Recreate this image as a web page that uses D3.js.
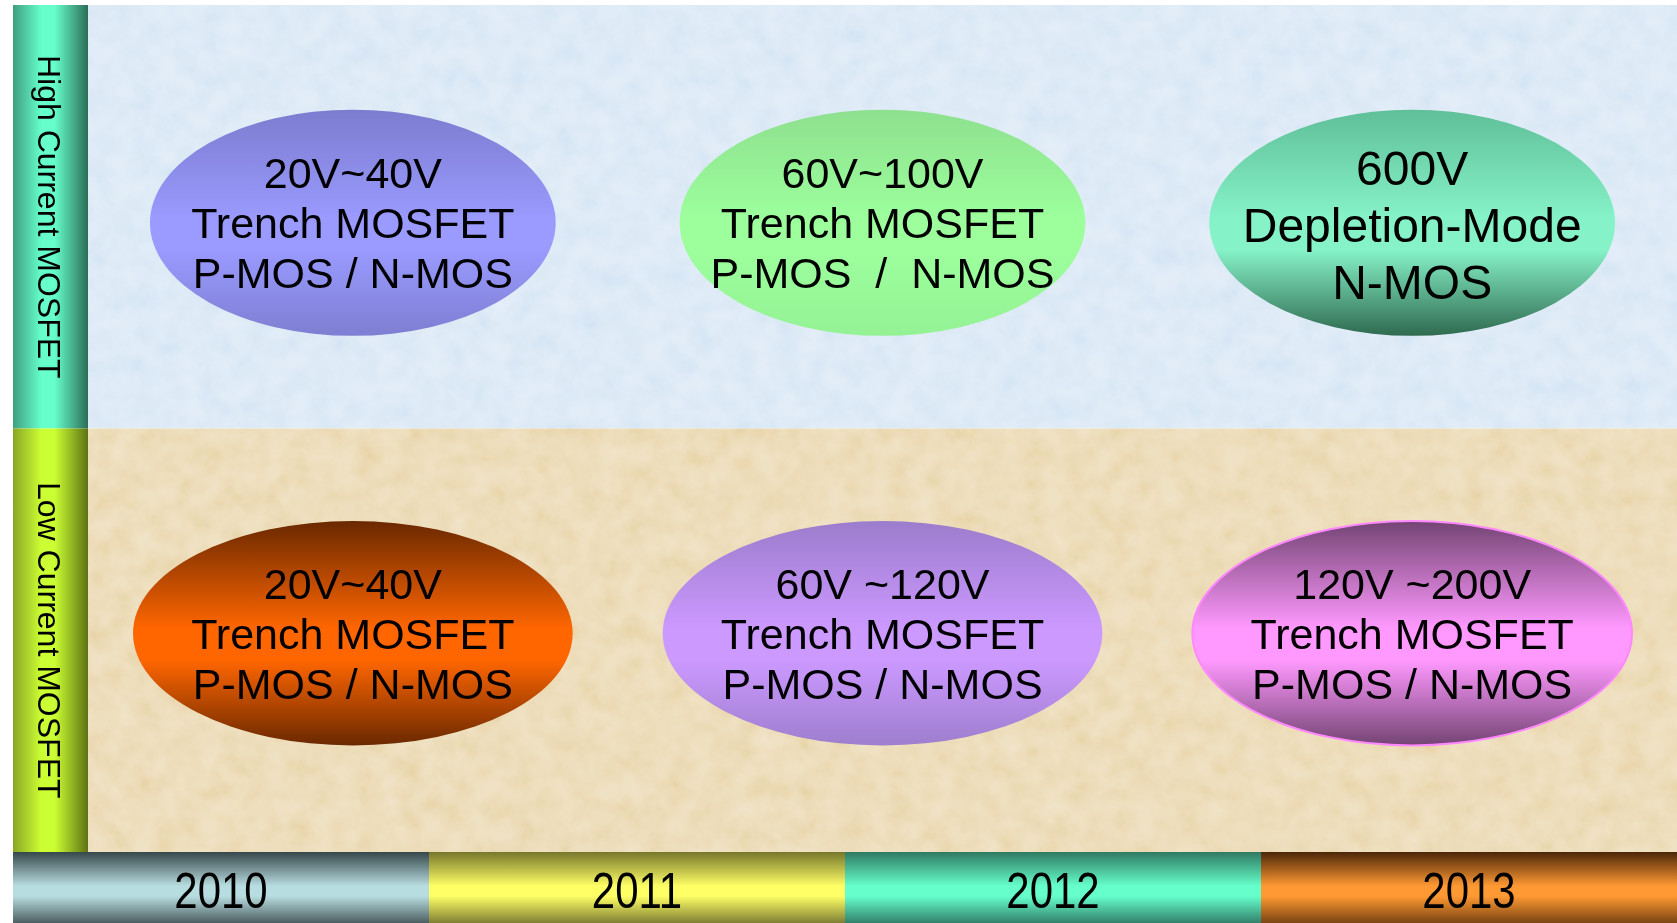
<!DOCTYPE html>
<html>
<head>
<meta charset="utf-8">
<script src="https://cdn.jsdelivr.net/npm/d3@7"></script>
<style>
  html, body { margin: 0; padding: 0; background: #fff; }
  svg { display: block; font-family: "Liberation Sans", Arial, Helvetica, sans-serif; }
</style>
</head>
<body>
<div id="chart"></div>
<script>
// datos del gráfico
let years = ['2010', '2011', '2012', '2013'];
let rows = ['High Current MOSFET', 'Low Current MOSFET'];
let slots = [0, 1, 2];

let itemRow = [0, 0, 0, 1, 1, 1];
let itemSlot = [0, 1, 2, 0, 1, 2];
let itemLines = [
    ['20V~40V', 'Trench MOSFET', 'P-MOS / N-MOS'],
    ['60V~100V', 'Trench MOSFET', 'P-MOS  /  N-MOS'],
    ['600V', 'Depletion-Mode', 'N-MOS'],
    ['20V~40V', 'Trench MOSFET', 'P-MOS / N-MOS'],
    ['60V ~120V', 'Trench MOSFET', 'P-MOS / N-MOS'],
    ['120V ~200V', 'Trench MOSFET', 'P-MOS / N-MOS']
];

// estilos
let itemColors = [
    ['#7c7ccf', '#9a9aff', '#7e7ed2'],
    ['#8ee08e', '#9cff9c', '#94f294'],
    ['#5fbf98', '#86f2c8', '#2f6a4f'],
    ['#6a2800', '#ff6600', '#6a2800'],
    ['#9c7ccc', '#cc99ff', '#9e7ece'],
    ['#734473', '#ff99ff', '#734473']
];
let yearColors = [
    ['#36474a', '#b8dde0', '#4c5e61'],
    ['#77772c', '#ffff66', '#7f7f33'],
    ['#2f7a62', '#66ffcc', '#33806a'],
    ['#4b2608', '#ff9933', '#7a4412']
];
let rowColors = [
    ['#3f9f80', '#66ffcc', '#2b6e58'],
    ['#8aa624', '#ccff33', '#5d7212']
];

let W = 1677, H = 923;
let margin = {top: 5, left: 13, labelW: 75, yearH: 71};

let svg = d3.select('#chart').append('svg')
    .attr('width', W)
    .attr('height', H);

let defs = svg.append('defs');

// textura del fondo
let noise = defs.append('filter').attr('id', 'noise')
    .attr('x', 0).attr('y', 0).attr('width', '100%').attr('height', '100%');
noise.append('feTurbulence')
    .attr('type', 'fractalNoise')
    .attr('baseFrequency', 0.045)
    .attr('numOctaves', 4)
    .attr('seed', 7);
noise.append('feColorMatrix')
    .attr('type', 'matrix')
    .attr('values', '1 0 0 0 0  1 0 0 0 0  1 0 0 0 0  0 0 0 0 1');

function vGrad(id, c) {
    let g = defs.append('linearGradient').attr('id', id)
        .attr('x1', 0).attr('y1', 0).attr('x2', 0).attr('y2', 1);
    g.append('stop').attr('offset', '0%').attr('stop-color', c[0]);
    g.append('stop').attr('offset', '48%').attr('stop-color', c[1]);
    g.append('stop').attr('offset', '62%').attr('stop-color', c[1]);
    g.append('stop').attr('offset', '100%').attr('stop-color', c[2]);
}
function hGrad(id, c) {
    let g = defs.append('linearGradient').attr('id', id)
        .attr('x1', 0).attr('y1', 0).attr('x2', 1).attr('y2', 0);
    g.append('stop').attr('offset', '0%').attr('stop-color', c[0]);
    g.append('stop').attr('offset', '38%').attr('stop-color', c[1]);
    g.append('stop').attr('offset', '55%').attr('stop-color', c[1]);
    g.append('stop').attr('offset', '100%').attr('stop-color', c[2]);
}

itemColors.forEach(function(c, i) { vGrad('item-' + i, c); });
yearColors.forEach(function(c, i) { vGrad('year-' + i, c); });
rowColors.forEach(function(c, i) { hGrad('row-' + i, c); });

// escalas
let plotLeft = margin.left + margin.labelW;
let plotBottom = H - margin.yearH;

let y = d3.scaleBand()
    .domain(rows)
    .range([margin.top, plotBottom]);

let x = d3.scaleBand()
    .domain(slots)
    .range([plotLeft, W]);

let xYear = d3.scaleBand()
    .domain(years)
    .range([margin.left, W]);

// fondos de las filas
let bgColors = ['#d8e7f5', '#eAd7ae'];
let bands = svg.append('g');
rows.forEach(function(r, i) {
    bands.append('rect')
        .attr('x', plotLeft).attr('y', y(r))
        .attr('width', W - plotLeft).attr('height', y.bandwidth())
        .attr('fill', bgColors[i]);
    bands.append('rect')
        .attr('x', plotLeft).attr('y', y(r))
        .attr('width', W - plotLeft).attr('height', y.bandwidth())
        .attr('filter', 'url(#noise)')
        .style('mix-blend-mode', 'overlay')
        .attr('opacity', 0.35);
});

// etiquetas laterales
let side = svg.append('g');
side.selectAll('rect')
    .data(rows)
    .enter()
    .append('rect')
    .attr('x', margin.left)
    .attr('y', function(d) { return y(d); })
    .attr('width', margin.labelW)
    .attr('height', y.bandwidth())
    .attr('fill', function(d, i) { return 'url(#row-' + i + ')'; });

side.selectAll('text')
    .data(rows)
    .enter()
    .append('text')
    .attr('transform', function(d) {
        return 'translate(' + (margin.left + margin.labelW / 2 - 1) + ',' + (y(d) + y.bandwidth() / 2) + ') rotate(90)';
    })
    .attr('text-anchor', 'middle')
    .attr('dy', '0.36em')
    .style('font-size', '32px')
    .attr('fill', '#000')
    .text(function(d) { return d; });

// barra de años
let yearBar = svg.append('g');
yearBar.selectAll('rect')
    .data(years)
    .enter()
    .append('rect')
    .attr('x', function(d) { return xYear(d); })
    .attr('y', plotBottom)
    .attr('width', xYear.bandwidth())
    .attr('height', margin.yearH)
    .attr('fill', function(d, i) { return 'url(#year-' + i + ')'; });

// texto estrecho como en el original
yearBar.selectAll('text')
    .data(years)
    .enter()
    .append('text')
    .attr('transform', function(d) {
        return 'translate(' + (xYear(d) + xYear.bandwidth() / 2) + ',' + (plotBottom + margin.yearH / 2 + 2) + ') scale(0.84,1)';
    })
    .attr('text-anchor', 'middle')
    .attr('dy', '0.36em')
    .style('font-size', '50px')
    .attr('fill', '#000')
    .text(function(d) { return d; });

// elipses
let rowRx = [0.383, 0.415], rowRy = [0.267, 0.265], rowDy = [6, -7];
let items = itemLines.map(function(lines, i) {
    return {lines: lines, row: rows[itemRow[i]], ri: itemRow[i], slot: itemSlot[i], i: i};
});

let nodes = svg.append('g').selectAll('.node')
    .data(items)
    .enter()
    .append('g')
    .attr('class', 'node')
    .attr('transform', function(d) {
        return 'translate(' + (x(d.slot) + x.bandwidth() / 2) + ',' + (y(d.row) + y.bandwidth() / 2 + rowDy[d.ri]) + ')';
    });

nodes.append('ellipse')
    .attr('rx', function(d) { return x.bandwidth() * rowRx[d.ri]; })
    .attr('ry', function(d) { return y.bandwidth() * rowRy[d.ri]; })
    .attr('fill', function(d) { return 'url(#item-' + d.i + ')'; })
    .attr('stroke', function(d) { return d.i == 5 ? '#ff88ff' : 'none'; })
    .attr('stroke-width', 2);

nodes.each(function(d) {
    let big = d.i == 2;
    let fs = big ? 48 : 43;
    let lh = big ? 57 : 50;
    d3.select(this).selectAll('text')
        .data(d.lines)
        .enter()
        .append('text')
        .attr('text-anchor', 'middle')
        .attr('y', function(t, k) { return (k - 1) * lh + (big ? 2 : 0); })
        .attr('dy', '0.36em')
        .style('font-size', fs + 'px')
        .style('white-space', 'pre')
        .attr('fill', '#000')
        .text(function(t) { return t; });
});
</script>
</body>
</html>
